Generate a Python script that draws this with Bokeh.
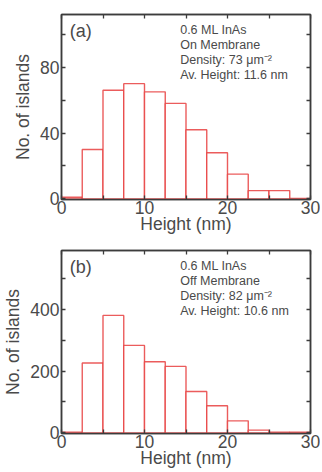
from bokeh.plotting import figure
from bokeh.layouts import column
from bokeh.models import LinearAxis, FixedTicker, Label, Range1d, CustomLabelingPolicy
from bokeh.embed import file_html
from bokeh.resources import INLINE

# ---- data ----
bin_left = [0, 2.5, 5, 7.5, 10, 12.5, 15, 17.5, 20, 22.5, 25, 27.5]
bin_width = 2.5
counts_on = [1, 30, 66, 70, 65, 58, 42, 28, 15, 5, 5, 0.3]
counts_off = [2, 226, 380, 283, 230, 215, 134, 88, 39, 9, 2, 2]
x_ticks = [0, 10, 20, 30]
x_minor = [5, 15, 25]
y_ticks_a = [0, 40, 80]
y_minor_a = [20, 60, 100]
y_ticks_b = [0, 200, 400]
y_minor_b = [100, 300, 500]
text_a = ["0.6 ML InAs", "On Membrane", "Density: 73 \u03bcm\u207b\u00b2", "Av. Height: 11.6 nm"]
text_b = ["0.6 ML InAs", "Off Membrane", "Density: 82 \u03bcm\u207b\u00b2", "Av. Height: 10.6 nm"]

FONT = "Liberation Sans"
AX = "#3c3c3c"
TXT = "#4a4a4a"
RED = "#e8403f"

NO_LABELS = "const a = [...indices]; for (const i of a) indices.unset(i); return indices"


def make(counts, yr, yt, ym, tag, lines, height, btop, bbot, ylab_top):
    p = figure(width=320, height=height, output_backend="svg", toolbar_location=None,
               x_range=Range1d(0, 30), y_range=Range1d(*yr),
               min_border_left=59, min_border_right=10, min_border_top=btop,
               min_border_bottom=bbot, x_axis_location=None, y_axis_location=None)
    p.grid.visible = False
    p.outline_line_color = AX
    p.outline_line_width = 1.5
    p.background_fill_color = "white"
    p.border_fill_color = "white"

    right = [l + bin_width for l in bin_left]
    p.quad(left=bin_left, right=right, bottom=0, top=counts,
           fill_color="white", line_color=RED, line_width=1.4, line_alpha=0.85)

    xt = FixedTicker(ticks=x_ticks, minor_ticks=x_minor)
    ytk = FixedTicker(ticks=yt, minor_ticks=ym)
    for loc, tick, labelled in (("below", xt, True), ("above", xt, False),
                                ("left", ytk, True), ("right", ytk, False)):
        ax = LinearAxis(ticker=tick)
        ax.axis_line_color = AX
        ax.axis_line_width = 1.5
        ax.major_tick_line_color = AX
        ax.minor_tick_line_color = AX
        ax.major_tick_line_width = 1.3
        ax.minor_tick_line_width = 1.3
        ax.major_tick_in = 4
        ax.major_tick_out = 0
        ax.minor_tick_in = 4
        ax.minor_tick_out = 0
        if labelled:
            ax.major_label_text_font = FONT
            ax.major_label_text_font_size = "17.5px"
            ax.major_label_text_color = TXT
            ax.major_label_text_line_height = 1.0
            ax.axis_label_text_font = FONT
            ax.axis_label_text_font_size = "17.5px"
            ax.axis_label_text_font_style = "normal"
            ax.axis_label_text_color = TXT
            ax.axis_label_text_line_height = 1.0
            if loc == "below":
                ax.axis_label = "Height (nm)"
                ax.major_label_standoff = 1
                ax.axis_label_standoff = -3
            else:
                ax.axis_label = "No. of islands"
                ax.major_label_standoff = 2
                ax.axis_label_standoff = 4
        else:
            ax.major_label_policy = CustomLabelingPolicy(code=NO_LABELS)
            ax.major_label_text_font_size = "0px"
            ax.major_label_standoff = 0
        p.add_layout(ax, loc)

    p.add_layout(Label(x=1.0, y=ylab_top, text=tag, text_font=FONT, text_font_size="18px",
                       text_color=TXT, text_baseline="top"))
    for i, s in enumerate(lines):
        p.add_layout(Label(x=14.3, y=ylab_top, y_offset=-15 * i - 2, text=s, text_font=FONT,
                           text_font_size="12.5px", text_color=TXT, text_baseline="top"))
    return p


pa = make(counts_on, (-0.4, 112), y_ticks_a, y_minor_a, "(a)", text_a, 236, 14, 36, 108)
pb = make(counts_off, (-2, 590), y_ticks_b, y_minor_b, "(b)", text_b, 236, 14, 39, 570)

layout = column(pa, pb, spacing=0)
open("out.html", "w").write(file_html(layout, INLINE))
